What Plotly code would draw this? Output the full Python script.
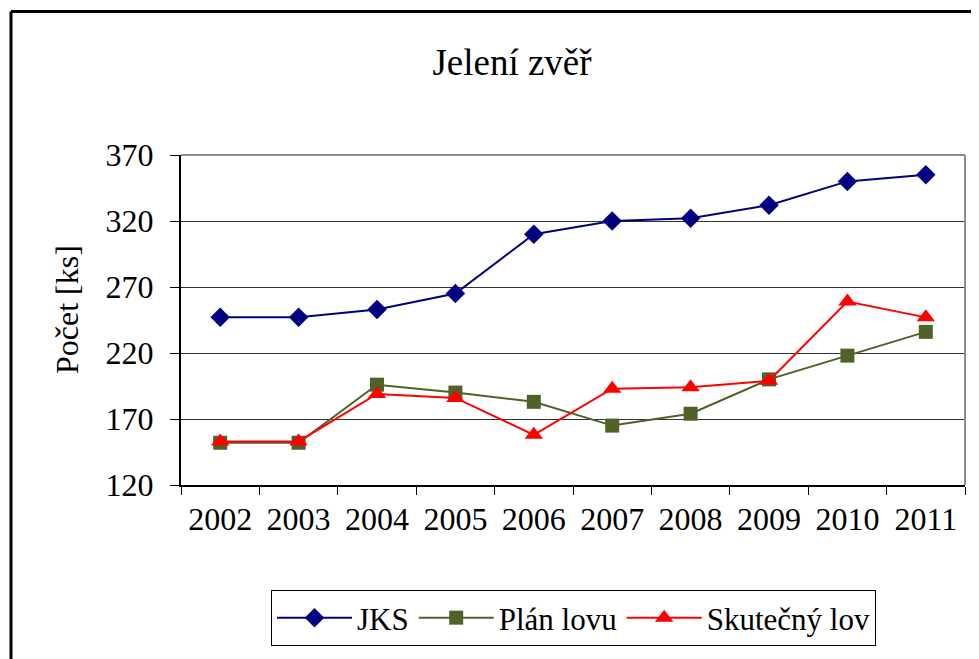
import plotly.graph_objects as go

years = ["2002", "2003", "2004", "2005", "2006", "2007", "2008", "2009", "2010", "2011"]
jks = [247, 247, 253, 265, 310, 320, 322, 332, 350, 355]
plan_lovu = [152, 152, 196, 190, 183, 165, 174, 200, 218, 236]
skutecny_lov = [153, 153, 189, 186, 158, 193, 194, 199, 259, 247]
y_ticks = [120, 170, 220, 270, 320, 370]

W, H = 979, 659
OFF = 8  # page body margin offset
L, R, T, B = 181 - OFF, 965 - OFF, 155 - OFF, 485 - OFF
FONT = "'Times New Roman', 'Liberation Serif', serif"

def px(xp):
    return (xp - OFF - L) / (R - L)

def py(yp):
    return (B - (yp - OFF)) / (B - T)

fig = go.Figure()
fig.add_trace(go.Scatter(x=years, y=jks, name="JKS", mode="lines+markers",
                         line=dict(color="#000080", width=2),
                         marker=dict(symbol="diamond", size=15, color="#000080")))
fig.add_trace(go.Scatter(x=years, y=plan_lovu, name="Plán lovu", mode="lines+markers",
                         line=dict(color="#4F6228", width=2),
                         marker=dict(symbol="square", size=14, color="#4F6228")))
fig.add_trace(go.Scatter(x=years, y=skutecny_lov, name="Skutečný lov", mode="lines+markers",
                         line=dict(color="#FF0000", width=2),
                         marker=dict(symbol="triangle-up", size=16, color="#FF0000")))

fig.update_layout(
    width=W, height=H,
    margin=dict(l=L, r=W - R, t=T, b=H - B, pad=0),
    paper_bgcolor="white", plot_bgcolor="white",
    font=dict(family=FONT, color="black", size=32),
    title=dict(text="Jelení zvěř", x=(512 - OFF) / W, xanchor="center",
               y=1 - (62 - OFF) / H, yanchor="middle",
               font=dict(family=FONT, size=37, color="black")),
    xaxis=dict(type="category", range=[-0.5, 9.5], showgrid=False,
               showline=True, linecolor="black", linewidth=2,
               ticks="outside", tickson="boundaries", ticklen=8, tickcolor="black",
               tickwidth=1, ticklabelstandoff=5,
               tickfont=dict(family=FONT, size=32)),
    yaxis=dict(range=[120, 370], tickvals=y_ticks, showgrid=True,
               gridcolor="#333333", gridwidth=1,
               showline=True, linecolor="black", linewidth=2,
               ticks="outside", ticklen=9, tickcolor="black", tickwidth=1,
               ticklabelstandoff=10, zeroline=False,
               tickfont=dict(family=FONT, size=32)),
    showlegend=True,
    legend=dict(orientation="h", x=px(271), xanchor="left", y=py(590), yanchor="top",
                bordercolor="black", borderwidth=1, bgcolor="white",
                font=dict(family=FONT, size=31), itemwidth=75,
                entrywidth=0),
    annotations=[dict(text="Počet [ks]", x=px(67), y=py(310), xref="paper", yref="paper",
                      textangle=-90, showarrow=False, xanchor="center", yanchor="middle",
                      font=dict(family=FONT, size=32, color="black"))],
    shapes=[
        dict(type="line", xref="paper", yref="paper", x0=0, x1=1, y0=1, y1=1,
             line=dict(color="#8c8c8c", width=2), layer="above"),
        dict(type="line", xref="paper", yref="paper", x0=1, x1=1, y0=0, y1=1,
             line=dict(color="#8c8c8c", width=2), layer="above"),
        dict(type="line", xref="paper", yref="paper", x0=px(11), x1=px(1100), y0=py(11.5), y1=py(11.5),
             line=dict(color="black", width=3), layer="above"),
        dict(type="line", xref="paper", yref="paper", x0=px(11), x1=px(11), y0=py(11.5), y1=py(800),
             line=dict(color="black", width=3), layer="above"),
    ],
)

fig.write_html("out.html")
